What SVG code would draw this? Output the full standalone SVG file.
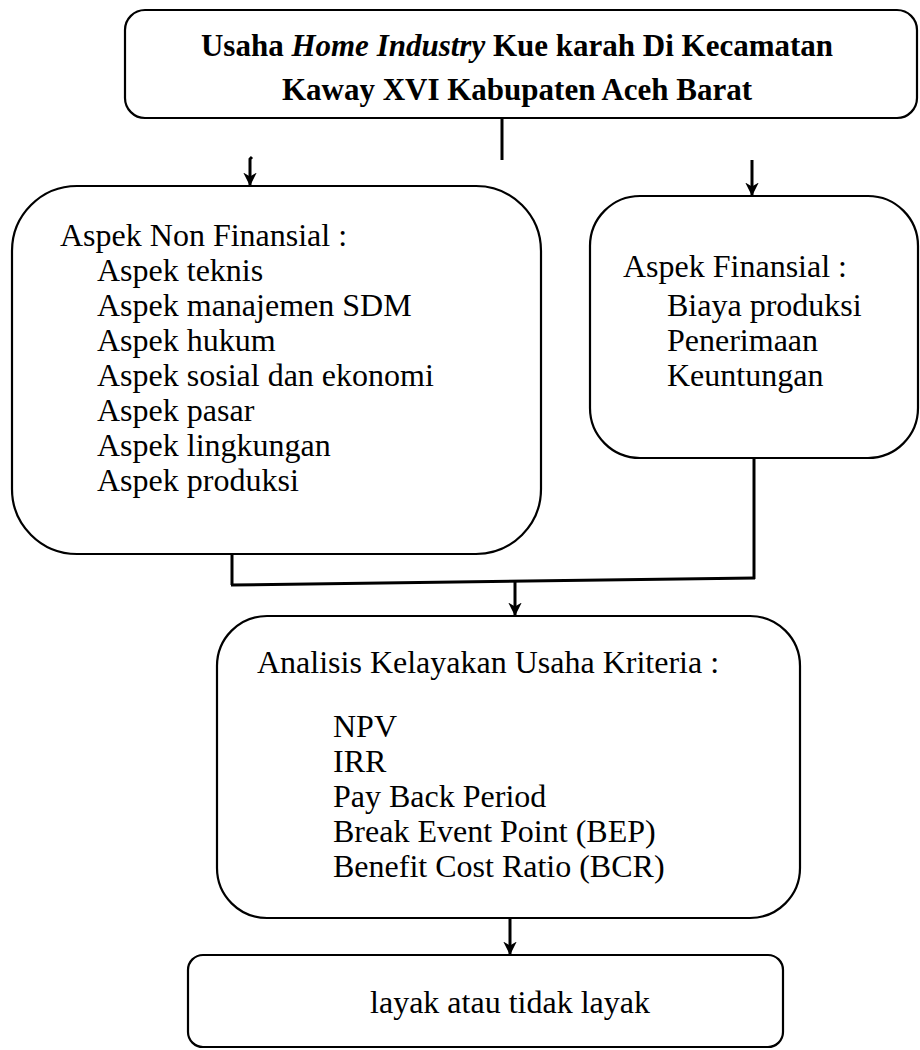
<svg xmlns="http://www.w3.org/2000/svg" width="920" height="1050" viewBox="0 0 920 1050">
<defs>
<style>
.box{fill:#fff;stroke:#000;stroke-width:2.2}
.t{font-family:"Liberation Serif","Times New Roman",serif;font-size:32px;fill:#000}
.b{font-weight:bold;font-size:31px}
.c{stroke:#000;stroke-width:3;fill:none}
</style>
<marker id="ah" viewBox="0 0 10 10" refX="10" refY="5" markerWidth="4.5" markerHeight="4.5" orient="auto" markerUnits="strokeWidth">
<path d="M0,0 L10,5 L0,10 L3,5 Z" fill="#000"/>
</marker>
</defs>
<rect width="920" height="1050" fill="#fff"/>
<g id="n-top">
<rect class="box" x="125" y="10" width="792" height="108" rx="20"/>
<text class="t b" x="517" y="56" text-anchor="middle">Usaha <tspan font-style="italic">Home Industry</tspan> Kue karah Di Kecamatan</text>
<text class="t b" x="517" y="100" text-anchor="middle">Kaway XVI Kabupaten Aceh Barat</text>
</g>
<g id="n-nonfin">
<rect class="box" x="12" y="186" width="529" height="368" rx="65"/>
<text class="t" x="60" y="246">Aspek Non Finansial :</text>
<text class="t" x="97" y="281">Aspek teknis</text>
<text class="t" x="97" y="316">Aspek manajemen SDM</text>
<text class="t" x="97" y="351">Aspek hukum</text>
<text class="t" x="97" y="386">Aspek sosial dan ekonomi</text>
<text class="t" x="97" y="421">Aspek pasar</text>
<text class="t" x="97" y="456">Aspek lingkungan</text>
<text class="t" x="97" y="491">Aspek produksi</text>
</g>
<g id="n-fin">
<rect class="box" x="590" y="196" width="328" height="262" rx="50"/>
<text class="t" x="623" y="277">Aspek Finansial :</text>
<text class="t" x="667" y="316">Biaya produksi</text>
<text class="t" x="667" y="351">Penerimaan</text>
<text class="t" x="667" y="386">Keuntungan</text>
</g>
<g id="n-analisis">
<rect class="box" x="217" y="616" width="583" height="302" rx="50"/>
<text class="t" x="257" y="673">Analisis Kelayakan Usaha Kriteria :</text>
<text class="t" x="333" y="737">NPV</text>
<text class="t" x="333" y="772">IRR</text>
<text class="t" x="333" y="807">Pay Back Period</text>
<text class="t" x="333" y="842">Break Event Point (BEP)</text>
<text class="t" x="333" y="877">Benefit Cost Ratio (BCR)</text>
</g>
<g id="n-result">
<rect class="box" x="188" y="955" width="595" height="92" rx="15"/>
<text class="t" x="510" y="1013" text-anchor="middle">layak atau tidak layak</text>
</g>
<g id="connectors">
<line class="c" x1="502" y1="118" x2="502" y2="160"/>
<path class="c" d="M252,157 L250,159 L250,186" marker-end="url(#ah)"/>
<line class="c" x1="752" y1="160" x2="752" y2="196" marker-end="url(#ah)"/>
<line class="c" x1="232" y1="554" x2="232" y2="585"/>
<line class="c" x1="754" y1="458" x2="754" y2="579"/>
<line class="c" x1="231" y1="585" x2="755" y2="578"/>
<line class="c" x1="515" y1="581" x2="515" y2="616" marker-end="url(#ah)"/>
<line class="c" x1="510" y1="918" x2="510" y2="955" marker-end="url(#ah)"/>
</g>
</svg>
